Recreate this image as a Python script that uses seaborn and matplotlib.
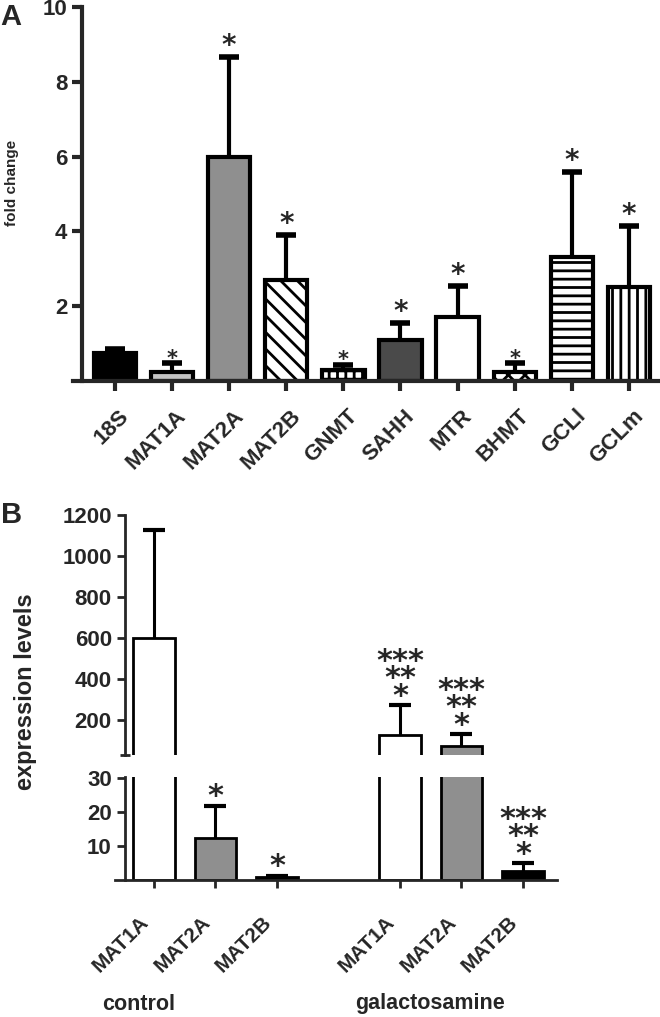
import numpy as np
import pandas as pd
import matplotlib
matplotlib.use('Agg')
import matplotlib.pyplot as plt
import matplotlib.transforms as mtransforms
import seaborn as sns

# ---- panel A data ----
genes = ['18S', 'MAT1A', 'MAT2A', 'MAT2B', 'GNMT', 'SAHH', 'MTR', 'BHMT', 'GCLl', 'GCLm']
fold = [0.75, 0.25, 6.0, 2.7, 0.29, 1.1, 1.71, 0.25, 3.32, 2.52]
fold_err = [0.1, 0.23, 2.66, 1.2, 0.14, 0.45, 0.83, 0.23, 2.26, 1.63]
fold_sig = ['', '*', '*', '*', '*', '*', '*', '*', '*', '*']

# ---- panel B data ----
groups = ['control', 'control', 'control', 'galactosamine', 'galactosamine', 'galactosamine']
isoforms = ['MAT1A', 'MAT2A', 'MAT2B', 'MAT1A', 'MAT2A', 'MAT2B']
expr = [600, 12.4, 0.9, 127, 73, 2.6]
expr_err = [527, 9.4, 0.4, 146, 59, 2.4]
expr_sig = ['', '*', '*', '***\n**\n*', '***\n**\n*', '***\n**\n*']

# styles
colA = ['black', '#c4c4c4', '#8f8f8f', 'white', 'white', '#4a4a4a', 'white', 'white', 'white', 'white']
hatchA = ['', '', '', '\\\\', '++', '', '', 'xx', '--', '||']
starA = [20, 15, 20, 20, 15, 20, 20, 15, 20, 20]
colB = ['white', '#8f8f8f', 'black', 'white', '#8f8f8f', 'black']

sns.set_style('ticks')
plt.rcParams['font.family'] = ['Liberation Sans', 'DejaVu Sans']
plt.rcParams['font.weight'] = 'bold'
plt.rcParams['hatch.linewidth'] = 2.0

W, H = 660, 1017
fig = plt.figure(figsize=(W / 100, H / 100), dpi=100)


def box(x0, y0, x1, y1):
    # pixel box (top-left origin) -> figure fraction
    return [x0 / W, 1 - y1 / H, (x1 - x0) / W, (y1 - y0) / H]


def up_errors(ax, x, y, err, **kw):
    # only the upper half of the error bar is drawn
    _, caps, _ = ax.errorbar(x, y, yerr=[np.zeros(len(y)), err], fmt='none', ecolor='black',
                             zorder=3, **kw)
    caps[0].set_visible(False)


# ================= panel A =================
axA = fig.add_axes(box(73, 7, 660, 381))
dfA = pd.DataFrame({'gene': genes, 'fold': fold})
sns.barplot(data=dfA, x='gene', y='fold', hue='gene', palette=dict(zip(genes, colA)),
            width=0.74, saturation=1, edgecolor='black', linewidth=3, legend=False, ax=axA)
bars = sorted(axA.patches, key=lambda p: p.get_x())
for p, h in zip(bars, hatchA):
    p.set_hatch(h)
    p.set_edgecolor('black')
xs = np.arange(len(genes))
up_errors(axA, xs, fold, fold_err, elinewidth=3, capsize=7.5, capthick=4)
for x, v, e, s, fs in zip(xs, fold, fold_err, fold_sig, starA):
    if s:
        axA.annotate(s, (x, v + e), xytext=(0, -2 if fs > 15 else -4), textcoords='offset points',
                     ha='center', va='bottom', fontsize=fs, fontweight='bold', family='DejaVu Sans')
axA.set_xlim(-0.735, 9.545)
axA.set_ylim(0, 10)
axA.set_yticks([2, 4, 6, 8, 10])
axA.spines[['top', 'right']].set_visible(False)
axA.spines['left'].set_position(('data', -0.578))
for sp in ('left', 'bottom'):
    axA.spines[sp].set_linewidth(3)
axA.tick_params(width=3, length=7, labelsize=16)
axA.tick_params(axis='x', pad=16)
axA.set_xlabel('')
axA.set_ylabel('')
axA.set_xticks(xs)
axA.set_xticklabels(genes, rotation=45, ha='right', va='center', rotation_mode='anchor')
off = mtransforms.ScaledTranslation(8 / 72, 0, fig.dpi_scale_trans)
for lbl in axA.get_xticklabels():
    lbl.set_transform(lbl.get_transform() + off)

# ================= panel B =================
keys = [g + ' ' + i for g, i in zip(groups, isoforms)]
order = keys[:3] + [' '] + keys[3:]
dfB = pd.DataFrame({'key': keys, 'expr': expr})
axBu = fig.add_axes(box(115, 515, 557, 755))
axBl = fig.add_axes(box(115, 777, 557, 880))
low_top = 30.3
xb = np.array([order.index(k) for k in keys])
v_arr = np.array(expr)
e_arr = np.array(expr_err)
for ax in (axBu, axBl):
    sns.barplot(data=dfB, x='key', y='expr', order=order, hue='key', palette=dict(zip(keys, colB)),
                width=0.68, saturation=1, edgecolor='black', linewidth=2, legend=False, ax=ax)
    ax.set_xlim(-0.634, 6.553)
    ax.set_xlabel('')
    ax.set_ylabel('')
    ax.spines[['top', 'right']].set_visible(False)
    ax.spines['left'].set_position(('data', -0.472))
    for sp in ('left', 'bottom'):
        ax.spines[sp].set_linewidth(2)
    ax.tick_params(width=2, length=6, labelsize=16)

hi = v_arr > low_top
up_errors(axBu, xb[hi], v_arr[hi], e_arr[hi], elinewidth=2.2, capsize=8, capthick=3)
up_errors(axBl, xb[~hi], v_arr[~hi], e_arr[~hi], elinewidth=2.2, capsize=8, capthick=3)

axBu.set_ylim(30, 1200)
axBu.set_yticks([200, 400, 600, 800, 1000, 1200])
axBu.set_yticks([30], minor=True)
axBu.tick_params(axis='y', which='minor', direction='inout', length=7, width=2)
axBu.spines['bottom'].set_visible(False)
axBu.tick_params(axis='x', bottom=False, labelbottom=False)

axBl.set_ylim(0, low_top)
axBl.set_yticks([10, 20, 30])
axBl.set_xticks(xb)
axBl.set_xticklabels(isoforms, rotation=45, ha='right', va='center', rotation_mode='anchor')
axBl.tick_params(axis='x', pad=22, labelsize=15)
off = mtransforms.ScaledTranslation(-6 / 72, 0, fig.dpi_scale_trans)
for lbl in axBl.get_xticklabels():
    lbl.set_transform(lbl.get_transform() + off)

for x, v, e, s in zip(xb, expr, expr_err, expr_sig):
    if not s:
        continue
    ax = axBu if v + e > low_top else axBl
    ax.annotate(s, (x, v + e), xytext=(0, -4), textcoords='offset points', ha='center',
                va='bottom', fontsize=22, fontweight='bold', family='DejaVu Sans',
                linespacing=0.5)

# texts
fig.text(12 / W, 1 - 183 / H, 'fold change', rotation=90, ha='center', va='center', fontsize=11)
fig.text(26 / W, 1 - 692 / H, 'expression levels', rotation=90, ha='center', va='center', fontsize=17)
fig.text(11 / W, 1 - 17 / H, 'A', ha='center', va='center', fontsize=21)
fig.text(12 / W, 1 - 515 / H, 'B', ha='center', va='center', fontsize=21)
fig.text(139 / W, 1 - 1004 / H, 'control', ha='center', va='center', fontsize=15.5)
fig.text(430 / W, 1 - 1004 / H, 'galactosamine', ha='center', va='center', fontsize=15.5)

fig.savefig('out.png', dpi=100)
